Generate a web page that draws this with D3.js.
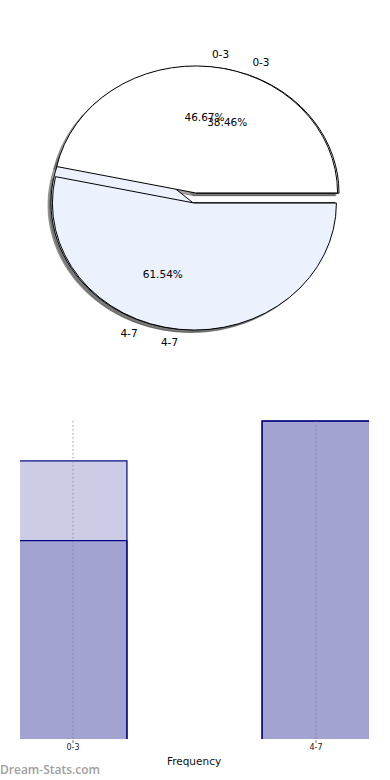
<!DOCTYPE html>
<html>
<head>
<meta charset="utf-8" />
<title>Frequency 0-3 / 4-7</title>
<script src="https://d3js.org/d3.v7.min.js"></script>
<style>
body { margin: 0; background: #fff; }
svg { display: block; }
.pie-label { font-family: "DejaVu Sans", sans-serif; font-size: 10.5px; fill: #000; }
.tick-label { font-family: "DejaVu Sans", sans-serif; font-size: 8px; fill: #222; }
.axis-title { font-family: "DejaVu Sans", sans-serif; font-size: 10.5px; fill: #111; }
.watermark { font-family: "Open Sans", sans-serif; font-weight: 600; font-size: 12px; fill: #a0a0a0; }
</style>
</head>
<body>
<div id="chart"></div>
<script>
// data
var categories = ["0-3", "4-7"];
var freqA = [7, 8];   // first series (top pie, light bars)
var freqB = [5, 8];   // second series
var pieColors = ["#ffffff", "#ebf1fd"];
// which percent labels show in the picture (53.33% is hidden)
var showPctA = [true, false];
var showPctB = [true, true];

var width = 390, height = 780;
var svg = d3.select("#chart").append("svg")
    .attr("width", width).attr("height", height);

/* ---------- pie ---------- */
var cx = 195, cy = 198, rx = 142, ry = 127, explode = 0.04;
var pie = d3.pie().sort(null);
var arc = d3.arc().innerRadius(0).outerRadius(ry);

// matplotlib style: angle counter-clockwise from 3 o'clock
function wedges(values) {
    var total = d3.sum(values);
    return pie(values).map(function(p, i) {
        var mid = (p.startAngle + p.endAngle) / 2;
        return {
            i: i,
            pct: (values[i] / total * 100).toFixed(2) + "%",
            start: p.startAngle, end: p.endAngle, mid: mid,
            ox: cx + explode * rx * Math.cos(mid),
            oy: cy - explode * ry * Math.sin(mid)
        };
    });
}
function wedgePath(w) {
    return arc({ startAngle: Math.PI / 2 - w.end, endAngle: Math.PI / 2 - w.start });
}

var wA = wedges(freqA), wB = wedges(freqB);
var gPie = svg.append("g");

// shadows under everything
gPie.selectAll("path.shadow")
    .data(wB.concat(wA))
    .enter().append("path")
    .attr("class", "shadow")
    .attr("d", wedgePath)
    .attr("transform", function(w) { return "translate(" + (w.ox - 3) + "," + (w.oy + 2.5) + ") scale(" + (rx / ry) + ",1)"; })
    .attr("fill", "#4d4d4d").attr("fill-opacity", 0.5)
    .attr("stroke", "#4d4d4d").attr("stroke-opacity", 0.5)
    .attr("vector-effect", "non-scaling-stroke");

[wB, wA].forEach(function(ws) {
    gPie.append("g").selectAll("path")
        .data(ws)
        .enter().append("path")
        .attr("d", wedgePath)
        .attr("transform", function(w) { return "translate(" + w.ox + "," + w.oy + ") scale(" + (rx / ry) + ",1)"; })
        .attr("fill", function(w) { return pieColors[w.i]; })
        .attr("stroke", "#000").attr("stroke-width", 1)
        .attr("vector-effect", "non-scaling-stroke");
});

function addLabels(ws, showPct) {
    ws.forEach(function(w) {
        var c = Math.cos(w.mid), s = Math.sin(w.mid);
        var lx = w.ox + 1.1 * rx * c, ly = w.oy - 1.1 * ry * s;
        gPie.append("text").attr("class", "pie-label")
            .attr("x", lx).attr("y", ly).attr("dy", "0.35em")
            .attr("text-anchor", c > 0 ? "start" : (c < 0 ? "end" : "middle"))
            .text(categories[w.i]);
        if (showPct[w.i]) {
            gPie.append("text").attr("class", "pie-label")
                .attr("x", w.ox + 0.6 * rx * c).attr("y", w.oy - 0.6 * ry * s)
                .attr("dy", "0.35em").attr("text-anchor", "middle")
                .text(w.pct);
        }
    });
}
addLabels(wA, showPctA);
addLabels(wB, showPctB);

/* ---------- bars ---------- */
var x = d3.scaleBand().domain(categories).range([19, 370])
    .paddingInner(0.556).paddingOuter(0);
var y = d3.scaleLinear().domain([0, 8]).range([740, 421]);

// axes area clips the outer bar edges
svg.append("clipPath").attr("id", "axclip")
    .append("rect").attr("x", 20).attr("y", 410)
    .attr("width", 349).attr("height", 329);

var gBars = svg.append("g").attr("clip-path", "url(#axclip)");
[freqA, freqB].forEach(function(vals) {
    gBars.append("g").selectAll("rect")
        .data(vals)
        .enter().append("rect")
        .attr("x", function(d, i) { return x(categories[i]); })
        .attr("y", function(d) { return y(d); })
        .attr("width", x.bandwidth())
        .attr("height", function(d) { return y(0) - y(d); })
        .attr("fill", "#000080").attr("fill-opacity", 0.2)
        .attr("stroke", "#000080").attr("stroke-width", 1.2);
});

// dotted vertical grid lines at category centers
svg.append("g").selectAll("line")
    .data(categories)
    .enter().append("line")
    .attr("x1", function(d) { return x(d) + x.bandwidth() / 2; })
    .attr("x2", function(d) { return x(d) + x.bandwidth() / 2; })
    .attr("y1", y(8)).attr("y2", y(0) + 3)
    .attr("stroke", "#777").attr("stroke-opacity", 0.45)
    .attr("stroke-width", 1.6).attr("stroke-dasharray", "1.5,2.5");

var xAxis = svg.append("g")
    .attr("transform", "translate(0," + y(0) + ")")
    .call(d3.axisBottom(x).tickSize(3).tickPadding(1));
xAxis.select(".domain").remove();
xAxis.selectAll(".tick line").attr("stroke", "#999");
xAxis.selectAll(".tick text").attr("class", "tick-label").attr("font-family", null).attr("font-size", null);

svg.append("text").attr("class", "axis-title")
    .attr("x", 194).attr("y", 761).attr("dy", "0.35em")
    .attr("text-anchor", "middle").text("Frequency");

svg.append("text").attr("class", "watermark")
    .attr("x", 0).attr("y", 770).attr("dy", "0.35em")
    .text("Dream-Stats.com");
</script>
</body>
</html>
